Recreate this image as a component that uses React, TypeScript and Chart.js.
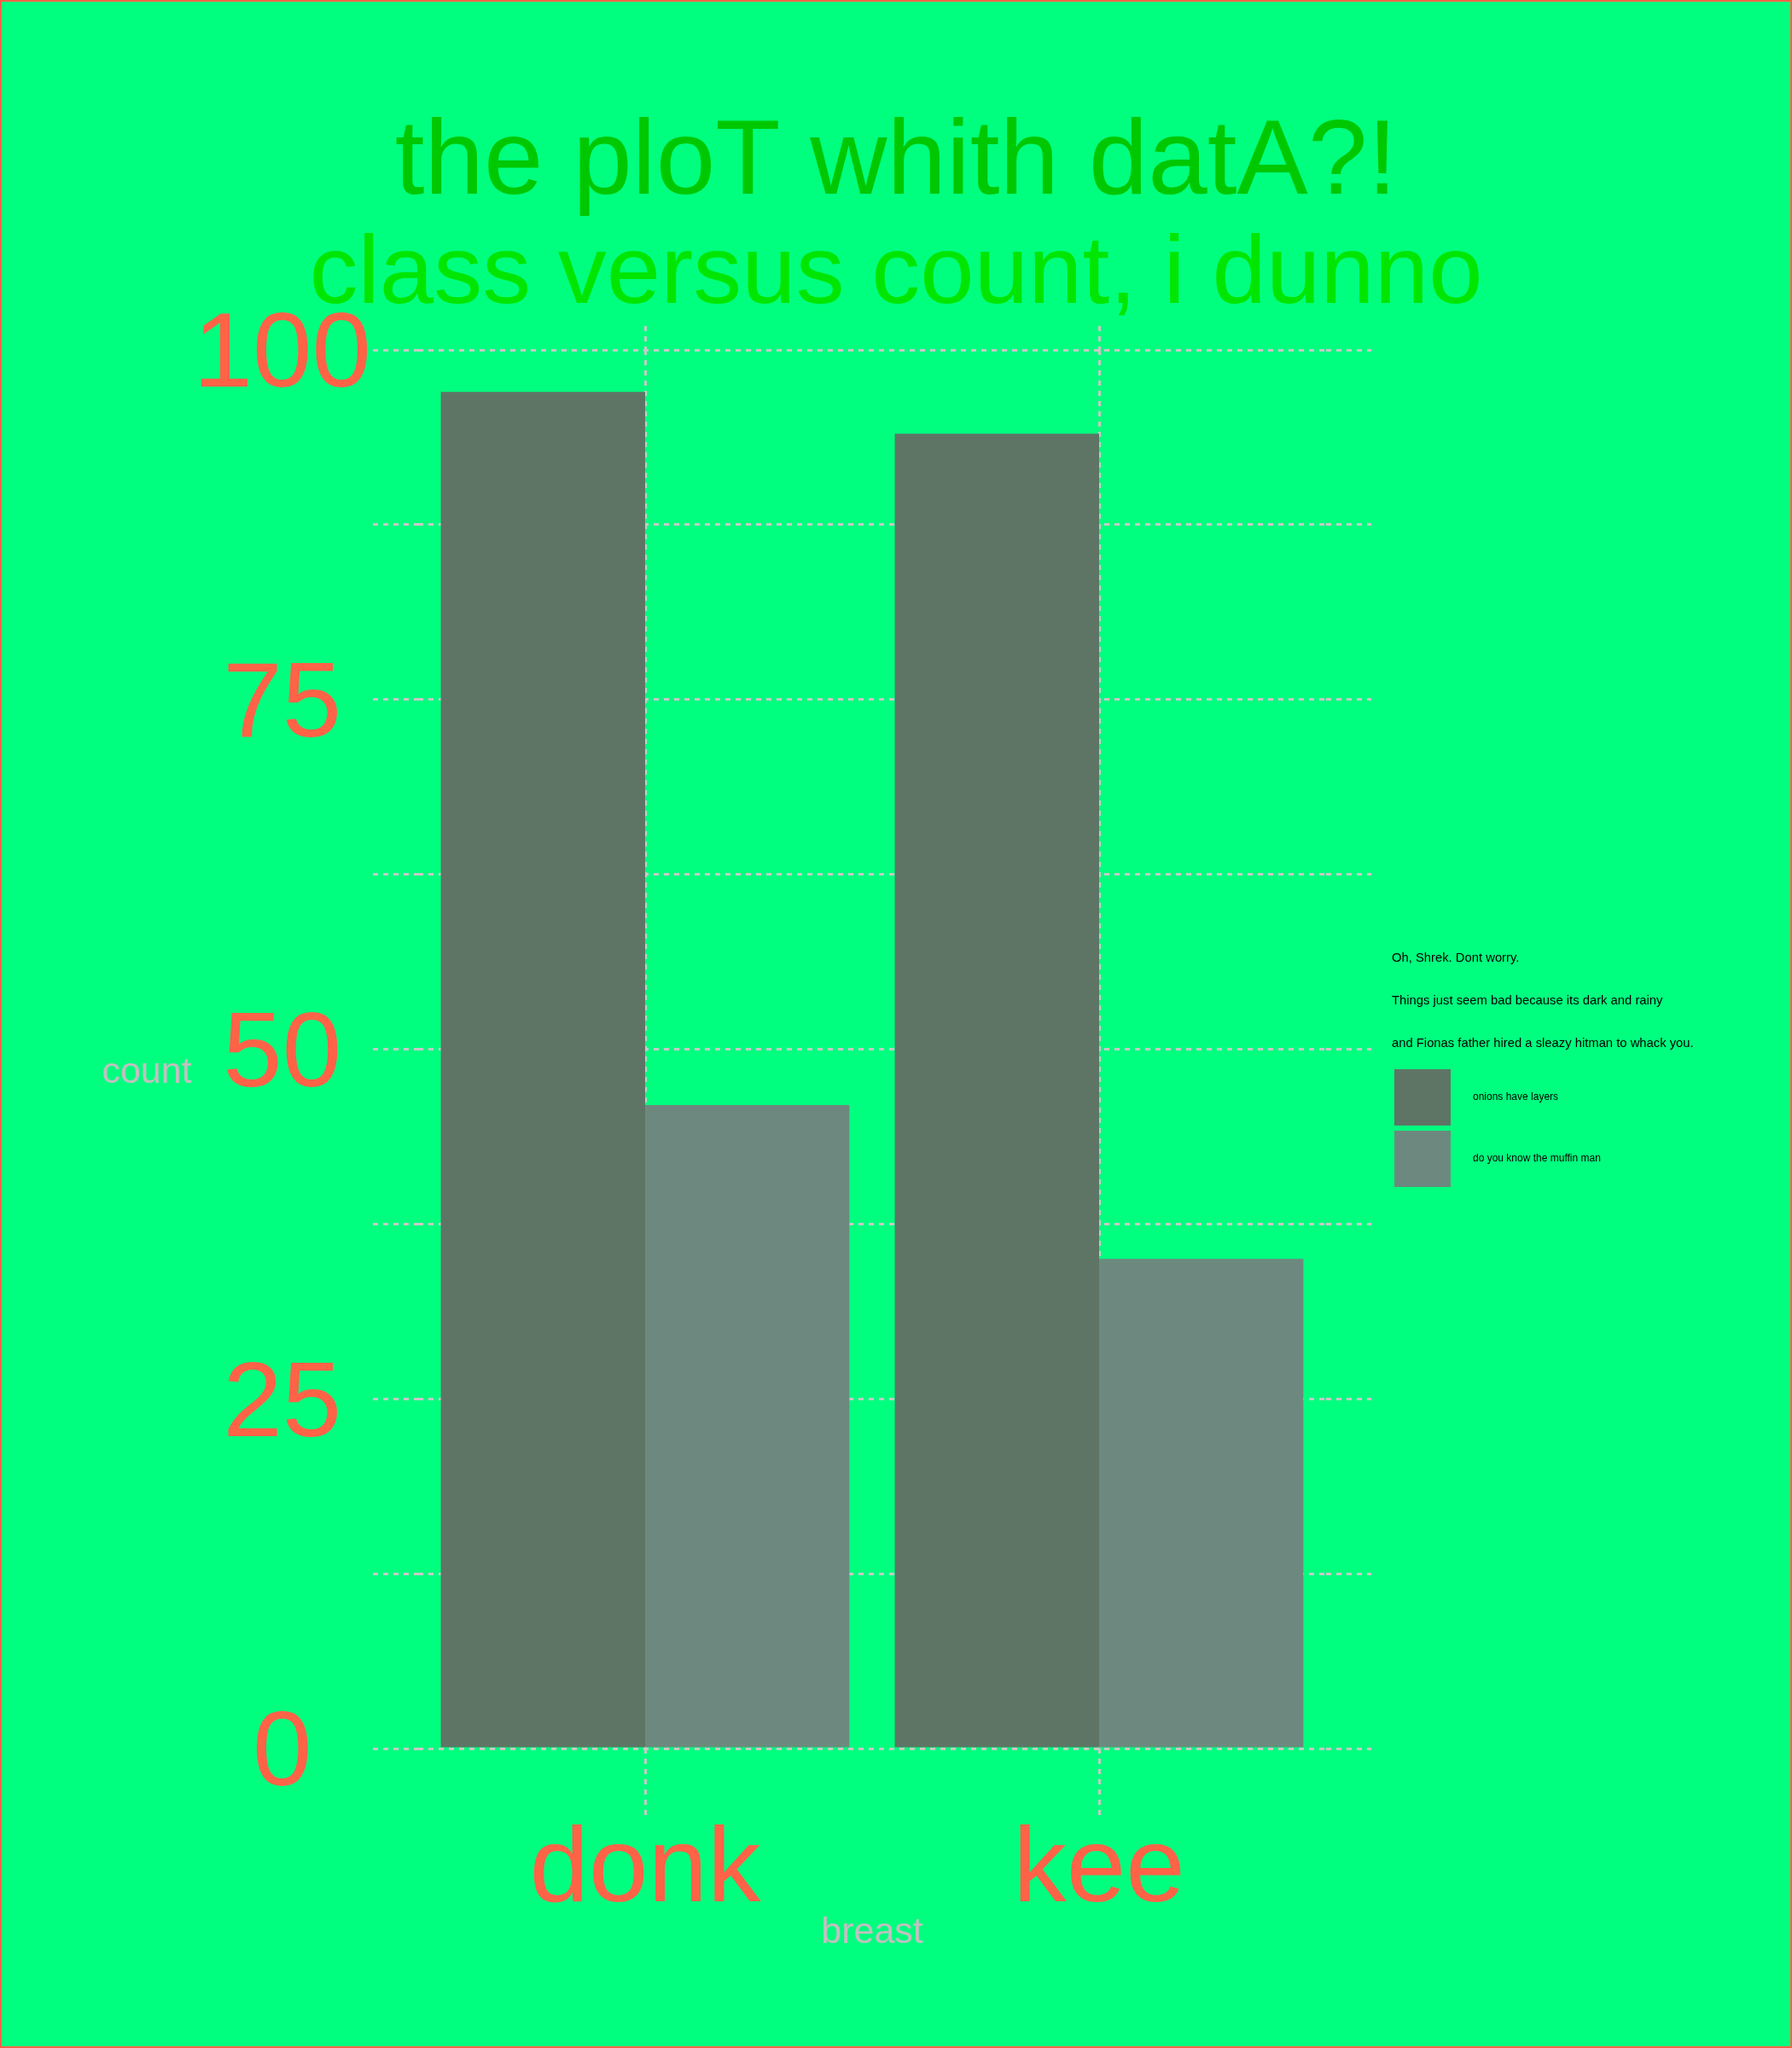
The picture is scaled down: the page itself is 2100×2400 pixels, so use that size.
import React, { useEffect, useRef } from 'react';
import { Chart, registerables } from 'chart.js';

Chart.register(...registerables);

const categories = ['donk', 'kee'];
const onionsHaveLayers = [97, 94];
const muffinMan = [46, 35];
const seriesNames = ['onions have layers', 'do you know the muffin man'];
const legendTitleLines = [
  'Oh, Shrek. Dont worry.',
  'Things just seem bad because its dark and rainy',
  'and Fionas father hired a sleazy hitman to whack you.',
];
const chartTitle = 'the ploT whith datA?!';
const chartSubtitle = 'class versus count, i dunno';
const xTitle = 'breast';
const yTitle = 'count';

const FONT = "'Liberation Sans', Arial, Helvetica, sans-serif";
const BG = '#00FF7F';
const TOMATO = '#FF6347';
const SILVER = '#C0C0C0';
const GRID = '#C8C8C8';
const DARK = '#5E7565';
const LIGHT = '#6D897F';
const DASH = [6, 6];

const backgroundPlugin = {
  id: 'bgBorder',
  beforeDraw(chart: any) {
    const { ctx, width, height } = chart;
    ctx.save();
    ctx.fillStyle = BG;
    ctx.fillRect(0, 0, width, height);
    ctx.strokeStyle = TOMATO;
    ctx.lineWidth = 2;
    ctx.strokeRect(1, 1, width - 2, height - 2);
    ctx.restore();
  },
};

const decorPlugin = {
  id: 'decor',
  afterDraw(chart: any) {
    const { ctx } = chart;
    ctx.save();
    // unrotated y axis title
    ctx.fillStyle = SILVER;
    ctx.font = `43px ${FONT}`;
    ctx.textAlign = 'center';
    ctx.textBaseline = 'alphabetic';
    ctx.fillText(yTitle, 172, 1269);

    // legend
    ctx.fillStyle = '#000000';
    ctx.textAlign = 'left';
    ctx.font = `14.8px ${FONT}`;
    const baselines = [1127, 1177, 1227];
    legendTitleLines.forEach((line, i) => ctx.fillText(line, 1631, baselines[i]));
    const ds = chart.data.datasets;
    const boxTops = [1253, 1325];
    ds.forEach((d: any, i: number) => {
      ctx.fillStyle = d.backgroundColor;
      ctx.fillRect(1634, boxTops[i], 66, 66);
      ctx.fillStyle = '#000000';
      ctx.font = `12px ${FONT}`;
      ctx.textBaseline = 'middle';
      ctx.fillText(d.label, 1726, boxTops[i] + 33);
    });
    ctx.restore();
  },
};

const gridCommon = {
  color: GRID,
  lineWidth: 3,
  drawTicks: true,
  tickColor: GRID,
  tickWidth: 3,
  tickBorderDash: DASH,
};

export default function App() {
  const canvasRef = useRef<HTMLCanvasElement | null>(null);

  useEffect(() => {
    const canvas = canvasRef.current;
    if (!canvas) return;
    const chart = new Chart(canvas, {
      type: 'bar',
      data: {
        labels: categories,
        datasets: [
          {
            label: seriesNames[0],
            data: onionsHaveLayers,
            backgroundColor: DARK,
            borderWidth: 0,
            xAxisID: 'x',
            yAxisID: 'y',
          },
          {
            label: seriesNames[1],
            data: muffinMan,
            backgroundColor: LIGHT,
            borderWidth: 0,
            xAxisID: 'x',
            yAxisID: 'y',
          },
        ],
      },
      options: {
        responsive: false,
        animation: false,
        devicePixelRatio: 1,
        layout: { padding: { top: 0, left: 0, right: 0, bottom: 113.6 } },
        datasets: { bar: { categoryPercentage: 0.9, barPercentage: 1.0 } },
        plugins: {
          legend: { display: false },
          tooltip: { enabled: false },
          title: {
            display: true,
            text: chartTitle,
            color: '#00C800',
            font: { family: FONT, size: 125, weight: 'normal', lineHeight: 1 },
            padding: { top: 130.4, bottom: 0 },
          },
          subtitle: {
            display: true,
            text: chartSubtitle,
            color: '#00E600',
            font: { family: FONT, size: 114, weight: 'normal', lineHeight: 1 },
            padding: { top: 11.6, bottom: 1 },
          },
        },
        scales: {
          x: {
            type: 'category',
            position: 'bottom',
            offset: true,
            grid: { ...gridCommon, offset: false, tickLength: 79 },
            border: { display: false, dash: DASH },
            ticks: {
              color: TOMATO,
              font: { family: FONT, size: 125, lineHeight: 1 },
              padding: 3.4,
              maxRotation: 0,
              autoSkip: false,
            },
            title: {
              display: true,
              text: xTitle,
              color: SILVER,
              font: { family: FONT, size: 43, lineHeight: 1 },
              padding: { top: 0, bottom: 0 },
            },
            afterFit: (s: any) => {
              s.height = 237.4;
            },
          },
          xTop: {
            type: 'category',
            position: 'top',
            offset: true,
            grid: { ...gridCommon, offset: false, drawOnChartArea: false, tickLength: 28 },
            border: { display: false, dash: DASH },
            ticks: { display: false },
            afterFit: (s: any) => {
              s.height = 28;
            },
          },
          y: {
            type: 'linear',
            position: 'left',
            min: 0,
            max: 100,
            grid: { ...gridCommon, tickLength: 53 },
            border: { display: false, dash: DASH },
            ticks: {
              stepSize: 12.5,
              autoSkip: false,
              crossAlign: 'center',
              padding: 2,
              labelOffset: 9,
              color: TOMATO,
              font: { family: FONT, size: 125, lineHeight: 1 },
              callback: (v: any) => (Number(v) % 25 === 0 ? String(v) : ''),
            },
            afterFit: (s: any) => {
              s.width = 490;
            },
          },
          yRight: {
            type: 'linear',
            position: 'right',
            min: 0,
            max: 100,
            grid: { ...gridCommon, drawOnChartArea: false, tickLength: 53 },
            border: { display: false, dash: DASH },
            ticks: { stepSize: 12.5, autoSkip: false, display: false },
            afterFit: (s: any) => {
              s.width = 546;
            },
          },
        },
      } as any,
      plugins: [backgroundPlugin, decorPlugin],
    });
    return () => chart.destroy();
  }, []);

  return (
    <div style={{ position: 'absolute', left: 0, top: 0, width: 2100, height: 2400 }}>
      <canvas ref={canvasRef} width={2100} height={2400} style={{ display: 'block', width: 2100, height: 2400 }} />
    </div>
  );
}
